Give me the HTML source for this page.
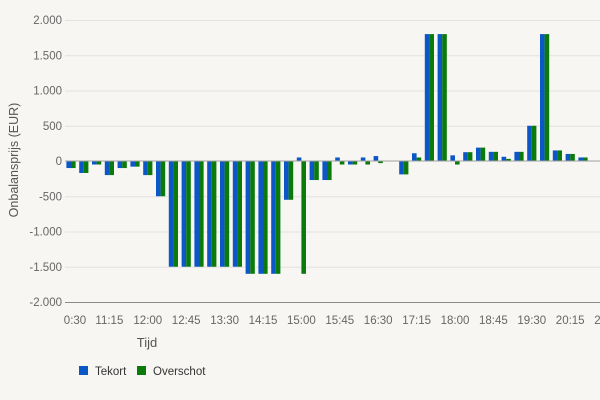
<!DOCTYPE html>
<html><head><meta charset="utf-8"><style>
html,body{margin:0;padding:0;background:#f7f6f3;}
svg{display:block;font-family:"Liberation Sans",sans-serif;}
</style></head><body>
<svg id="c" width="600" height="400" viewBox="0 0 600 400" xmlns="http://www.w3.org/2000/svg">
<rect width="600" height="400" fill="#f7f6f3"/>
<g id="grid" stroke="#e3e2df" stroke-width="1"></g>
<g id="ylab" font-size="11.5" fill="#666" text-anchor="end"></g>
<g id="bars"></g>
<line x1="65" y1="161" x2="600" y2="161" stroke="#a0a0a0" stroke-width="1"/>
<line x1="65" y1="302.5" x2="600" y2="302.5" stroke="#8a8a8a" stroke-width="1"/>
<g id="xlab" font-size="11.5" fill="#666" text-anchor="middle"></g>
<text x="18" y="160" font-size="12.5" fill="#555" text-anchor="middle" transform="rotate(-90 18 160)">Onbalansprijs (EUR)</text>
<text x="147" y="347" font-size="13" fill="#555" text-anchor="middle">Tijd</text>
<rect x="79" y="366" width="9" height="9" fill="#0b57c8"/>
<text x="95" y="375" font-size="11.5" fill="#333">Tekort</text>
<rect x="137" y="366" width="9" height="9" fill="#0a7a0a"/>
<text x="153" y="375" font-size="11.5" fill="#333">Overschot</text>
</svg>
<script>
var ns="http://www.w3.org/2000/svg";
function el(p,t,a,txt){var e=document.createElementNS(ns,t);for(var k in a)e.setAttribute(k,a[k]);if(txt)e.textContent=txt;document.getElementById(p).appendChild(e);}
var y0=161,s=0.0705;
var yl=["2.000","1.500","1.000","500","0","-500","-1.000","-1.500","-2.000"];
for(var i=0;i<9;i++){var v=2000-i*500,y=y0-v*s;
 if(v!=0&&v!=-2000)el("grid","line",{x1:65,x2:600,y1:y+0.5,y2:y+0.5});
 el("ylab","text",{x:62,y:y+4},yl[i]);}
var d=[[-100,-100],[-170,-170],[-50,-50],[-200,-200],[-100,-100],[-80,-80],[-200,-200],[-500,-500],
[-1500,-1500],[-1500,-1500],[-1500,-1500],[-1500,-1500],[-1500,-1500],[-1500,-1500],[-1600,-1600],[-1600,-1600],[-1600,-1600],
[-550,-550],[50,-1600],[-270,-270],[-270,-270],[50,-50],[-50,-50],[50,-50],[70,-30],[0,0],[-190,-190],[110,50],
[1800,1800],[1800,1800],[80,-50],[125,125],[190,190],[130,130],[60,30],[130,130],[500,500],[1800,1800],[150,150],[100,100],[50,50]];
for(var i=0;i<d.length;i++){var c=71+i*12.8;
 [[d[i][0],c-4.6,"#0b57c8"],[d[i][1],c,"#0a7a0a"]].forEach(function(b){var v=b[0];if(!v)return;var h=Math.abs(v)*s;
  el("bars","rect",{x:b[1],width:4.6,y:v>0?y0-h:y0,height:h,fill:b[2]});});}
var xl=["0:30","11:15","12:00","12:45","13:30","14:15","15:00","15:45","16:30","17:15","18:00","18:45","19:30","20:15","21:00"];
for(var i=0;i<xl.length;i++){var x=71+i*3*12.8;el("xlab","text",{x:i==0?75:x,y:324},xl[i]);}
</script>
</body></html>
